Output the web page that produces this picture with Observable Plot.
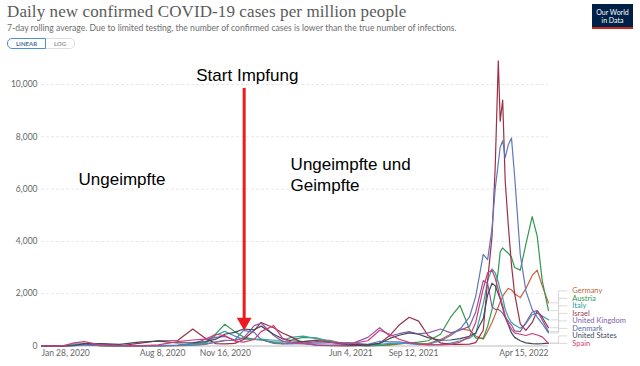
<!DOCTYPE html>
<html><head><meta charset="utf-8">
<script src="https://cdn.jsdelivr.net/npm/d3@7"></script>
<script src="https://cdn.jsdelivr.net/npm/@observablehq/plot@0.6"></script>
<style>
body{margin:0;background:#fff;font-family:Lato,"Noto Sans",sans-serif;}
#wrap{position:relative;width:640px;height:366px;overflow:hidden;background:#fff}
.title{position:absolute;left:7px;top:2px;font-family:"Liberation Serif","DejaVu Serif",serif;font-size:17px;color:#5b5b5b;white-space:nowrap;letter-spacing:0.1px}
.sub{position:absolute;left:7px;top:23px;font-size:8.6px;color:#6e6e6e;white-space:nowrap}
.btns{position:absolute;left:7px;top:38px;height:11px;display:flex;font-size:6px;font-weight:bold;color:#6b86a8}
.btns span{display:flex;align-items:center;padding:0 8px;height:9px}
.b1{border:1px solid #4c8fd4;border-radius:5px 0 0 5px;color:#4a6fa0}
.b2{border:1px solid #ddd;border-left:none;border-radius:0 5px 5px 0;color:#999}
.logo{position:absolute;left:592px;top:4px;width:41px;height:25px;background:#002147;border-bottom:2px solid #ce261e;color:#fff;font-size:7px;line-height:8px;text-align:center;padding-top:4px;box-sizing:border-box}
#chart{position:absolute;left:0;top:55px}
#chart svg{overflow:visible}
</style></head>
<body><div id="wrap">
<div class="title">Daily new confirmed COVID-19 cases per million people</div>
<div class="sub">7-day rolling average. Due to limited testing, the number of confirmed cases is lower than the true number of infections.</div>
<div class="btns"><span class="b1">LINEAR</span><span class="b2">LOG</span></div>
<div class="logo">Our World<br>in Data</div>
<div id="chart"></div>
</div>
<script>
const dates = ["2020-01-28","2020-03-01","2020-03-20","2020-04-05","2020-05-01","2020-06-01","2020-07-01","2020-08-01","2020-09-01","2020-09-25","2020-10-15","2020-11-01","2020-11-15","2020-12-01","2020-12-15","2021-01-01","2021-01-12","2021-02-01","2021-02-15","2021-03-01","2021-03-20","2021-04-10","2021-05-01","2021-06-01","2021-07-01","2021-07-20","2021-08-05","2021-08-20","2021-09-05","2021-09-20","2021-10-05","2021-10-25","2021-11-10","2021-11-25","2021-12-10","2021-12-20","2022-01-01","2022-01-08","2022-01-15","2022-01-20","2022-01-25","2022-01-28","2022-02-01","2022-02-05","2022-02-10","2022-02-15","2022-02-20","2022-03-01","2022-03-10","2022-03-20","2022-03-28","2022-04-05","2022-04-15"];

const germany = [0,2,40,70,15,5,5,9,17,25,60,160,215,210,310,250,240,130,90,100,170,230,220,40,7,20,35,80,120,100,90,250,450,660,600,380,260,560,900,1200,1500,1680,1900,2050,2200,2150,2000,1850,2200,2700,2900,2300,1650];
const austria = [0,1,60,80,5,4,12,12,35,80,130,470,830,550,340,250,230,150,150,230,330,310,170,25,10,25,60,90,110,150,200,450,1100,1550,650,300,300,750,1400,2000,2900,3600,3750,3650,3550,3400,3000,2900,3900,4950,4200,2500,1350];
const italy = [0,10,70,70,30,8,3,6,20,25,80,420,560,380,260,250,260,220,220,330,380,280,200,40,15,60,100,110,90,80,50,60,110,200,300,470,1600,2500,2950,2800,2450,2150,1850,1400,1100,900,800,680,850,1200,1250,1150,1000];
const israel = [0,0,20,60,25,10,100,200,210,650,300,90,80,100,250,600,900,700,500,350,110,30,10,1,30,110,400,800,1100,950,400,120,60,60,70,130,600,2500,4200,6800,10900,8600,9400,6300,4600,3100,2000,850,600,900,1350,1100,700];
const uk = [0,1,10,65,80,25,10,12,25,85,250,330,370,230,300,780,880,400,180,110,80,40,30,50,330,700,380,470,550,460,500,650,500,600,750,1300,2500,2400,1500,1400,1400,1350,1250,1100,950,800,580,550,900,1300,1350,1000,550];
const denmark = [0,0,15,45,25,8,3,12,20,80,80,150,200,230,600,520,250,100,80,80,100,110,120,130,60,180,160,160,100,50,60,200,400,650,1100,1900,3500,3300,4500,6000,7000,7600,7850,7200,7700,7950,6500,3500,2100,1400,1100,850,500];
const us = [0,0,20,90,90,65,150,190,120,130,170,260,450,520,650,620,760,450,280,200,170,210,150,60,40,100,290,410,500,450,320,220,230,280,370,500,1050,1950,2400,2300,2000,1800,1450,1100,800,500,330,200,120,90,85,90,110];
const spain = [0,1,120,170,40,10,7,45,170,230,260,450,400,190,150,250,550,780,300,150,110,170,150,80,200,600,450,260,140,70,40,45,60,150,350,900,2200,2800,2900,2600,2150,1850,1550,1150,850,650,500,450,400,480,420,350,100];

const countries = ["Germany","Austria","Italy","Israel","United Kingdom","Denmark","United States","Spain"];
const lineColors = ["#c8603a","#2f9a4e","#3aa0a8","#9c2f45","#8a5aa8","#5f78bd","#3f4a5e","#d23a76"];
const labelColors = ["#c8643c","#2f9a4e","#2e9aa0","#9b3a4a","#7d5fb0","#5a6aa8","#3f4a5e","#d63a78"];
const yTicks = [0,2000,4000,6000,8000,10000];
const xTicks = ["2020-01-28","2020-08-08","2020-11-16","2021-06-04","2021-09-12","2022-04-15"];

const noteTexts = ["Start Impfung","Ungeimpfte","Ungeimpfte und\nGeimpfte"];
const noteDates = ["2020-12-21","2020-03-27","2021-02-28"];
const noteValues = [10380,6400,6600];
const noteAnchors = ["middle","start","start"];
const arrowDate = "2020-12-16";
const arrowTop = 9850;
const arrowTip = 590;

const parse = d3.utcParse("%Y-%m-%d");
const series = [germany,austria,italy,israel,uk,denmark,us,spain];
const rows = countries.flatMap((c,i) => dates.map((d,j) => ({country:c, date:parse(d), value:series[i][j]})));

const W = 640, H = 311, mL = 41, mR = 92, mT = 29, mB = 20.5;
const yS = d3.scaleLinear([0,10000],[H-mB, mT]);
const lastDate = parse(dates[dates.length-1]);
const addDays = (d,n) => new Date(d.getTime() + n*86400000);

// label placement (bottom-up, minimum spacing)
const ends = countries.map((c,i) => ({country:c, i, end: series[i][series[i].length-1]}));
const order = ends.slice().sort((a,b) => a.end - b.end);
let prev = null;
for (const e of order) {
  let p = yS(e.end);
  if (prev === null) p = Math.min(p, H-mB-2.5); else p = Math.min(p, prev - 7.5);
  e.labelValue = yS.invert(p);
  prev = p;
}
const labels = ends.map(e => ({...e, color: labelColors[e.i]}));

const fmtDate = d3.utcFormat("%b %-d, %Y");
const axisStyle = {tickSize:0, tickPadding:4, tickFormat: fmtDate, fill:"#666", fontSize:8.5, fontFamily:"Lato"};

const tipPx = yS(arrowTip);
const chart = Plot.plot({
  width: W, height: H,
  marginLeft: mL, marginRight: mR, marginTop: mT, marginBottom: mB,
  style: {fontFamily:"Lato, sans-serif", background:"transparent", overflow:"visible"},
  x: {type:"utc", domain:[parse(dates[0]), lastDate], axis:null},
  y: {domain:[0,10000], axis:null},
  color: {domain: countries, range: lineColors},
  marks: [
    Plot.gridY(yTicks.slice(1), {stroke:"#e8e8e8", strokeOpacity:1, strokeDasharray:"3,2"}),
    Plot.axisY(yTicks, {tickSize:0, tickPadding:4, tickFormat: d3.format(","), fill:"#666", fontSize:8.5, fontFamily:"Lato"}),
    Plot.ruleY([0], {stroke:"#bbb"}),
    Plot.axisX([parse(xTicks[0])], {...axisStyle, textAnchor:"start"}),
    Plot.axisX(xTicks.slice(1,-1).map(parse), {...axisStyle}),
    Plot.axisX([parse(xTicks[xTicks.length-1])], {...axisStyle, textAnchor:"end"}),
    Plot.line(rows, {x:"date", y:"value", z:"country", stroke:"country", strokeWidth:1.2}),
    Plot.link(labels, {x1: () => addDays(lastDate,2), y1:"end", x2: () => addDays(lastDate,30), y2:"labelValue", curve:"step", stroke:"#cfcfcf", strokeWidth:0.8}),
    Plot.text(labels, {x: () => addDays(lastDate,38), y:"labelValue", text:"country", fill:"color", textAnchor:"start", fontSize:7.5, fontFamily:"Lato"}),
    ...noteTexts.map((t,i) => Plot.text([t], {x: () => parse(noteDates[i]), y: () => noteValues[i], text: d => d, textAnchor: noteAnchors[i], fontSize:17, lineHeight:1.25, fontFamily:"Liberation Sans, Arial, sans-serif", fill:"#000"})),
    Plot.ruleX([parse(arrowDate)], {y1: arrowTop, y2: yS.invert(tipPx - 8), stroke:"#ee1a1f", strokeWidth:3}),
    Plot.dot([parse(arrowDate)], {x: d => d, y: () => arrowTip, dy: -8.6, symbol:"triangle", rotate:180, r:5.5, fill:"#ee1a1f", stroke:"none"})
  ]
});
document.getElementById("chart").appendChild(chart);
</script>
</body></html>
